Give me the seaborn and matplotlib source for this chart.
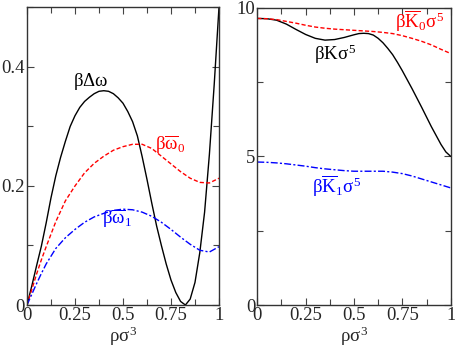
import numpy as np
import matplotlib
matplotlib.use("Agg")
import matplotlib.pyplot as plt
from matplotlib.ticker import MultipleLocator
import seaborn as sns
import pandas as pd

# left panel: free energy terms vs density
x_dw = [0, 0.025, 0.05, 0.075, 0.1, 0.125, 0.15, 0.175, 0.2, 0.225, 0.25, 0.275, 0.3, 0.325,
        0.35, 0.375, 0.4, 0.425, 0.45, 0.475, 0.5, 0.525, 0.55, 0.575, 0.6, 0.625, 0.65,
        0.675, 0.7, 0.725, 0.75, 0.775, 0.8, 0.825, 0.85, 0.875, 0.9, 0.925, 0.95, 0.975, 1.0]
dw = [0, 0.032, 0.066, 0.099, 0.138, 0.18, 0.217, 0.248, 0.275, 0.30, 0.318, 0.332, 0.342, 0.349,
      0.355, 0.359, 0.360, 0.359, 0.355, 0.348, 0.339, 0.325, 0.308, 0.284, 0.249, 0.211, 0.171,
      0.133, 0.10, 0.069, 0.042, 0.021, 0.006, 0.0, 0.010, 0.038, 0.088, 0.156, 0.253, 0.37, 0.50]

x_w = [0, 0.025, 0.05, 0.075, 0.1, 0.15, 0.2, 0.25, 0.3, 0.35, 0.4, 0.45, 0.5, 0.55,
       0.6, 0.65, 0.7, 0.75, 0.8, 0.85, 0.9, 0.95, 1.0]
w0 = [0, 0.026, 0.052, 0.076, 0.098, 0.14, 0.175, 0.20, 0.222, 0.238, 0.25, 0.26, 0.266, 0.27,
      0.27, 0.263, 0.25, 0.237, 0.224, 0.213, 0.206, 0.205, 0.213]
w1 = [0, 0.018, 0.036, 0.053, 0.069, 0.095, 0.113, 0.127, 0.139, 0.148, 0.154, 0.159, 0.161, 0.16,
      0.156, 0.149, 0.139, 0.127, 0.114, 0.102, 0.092, 0.089, 0.098]

# right panel: elastic constants vs density
x_k = [0, 0.05, 0.1, 0.15, 0.2, 0.25, 0.3, 0.35, 0.4, 0.45, 0.5, 0.525, 0.55, 0.575,
       0.6, 0.625, 0.65, 0.675, 0.7, 0.725, 0.75, 0.8, 0.85, 0.9, 0.95, 0.975, 1.0]
K = [9.64, 9.63, 9.58, 9.45, 9.27, 9.10, 8.97, 8.91, 8.93, 9.0, 9.09, 9.13, 9.14, 9.13,
     9.08, 8.97, 8.82, 8.63, 8.42, 8.16, 7.88, 7.28, 6.65, 6.0, 5.4, 5.15, 5.0]
x_k0 = [0, 0.05, 0.1, 0.15, 0.2, 0.25, 0.3, 0.35, 0.4, 0.45, 0.5, 0.55,
        0.6, 0.65, 0.7, 0.75, 0.8, 0.85, 0.9, 0.95, 1.0]
K0 = [9.64, 9.63, 9.6, 9.54, 9.48, 9.41, 9.35, 9.31, 9.28, 9.26, 9.24, 9.22,
      9.2, 9.17, 9.13, 9.06, 8.97, 8.87, 8.75, 8.6, 8.46]
K1 = [4.81, 4.80, 4.78, 4.75, 4.71, 4.67, 4.62, 4.58, 4.55, 4.52, 4.50, 4.50,
      4.50, 4.50, 4.47, 4.42, 4.34, 4.24, 4.14, 4.04, 3.94]

xticks = [0, 0.25, 0.5, 0.75, 1]
xticklabels = ["0", "0.25", "0.5", "0.75", "1"]

sns.set_theme(style="ticks")
plt.rcParams["font.family"] = ["Liberation Serif", "DejaVu Serif"]
plt.rcParams["mathtext.fontset"] = "custom"
plt.rcParams["mathtext.rm"] = "Liberation Serif"
plt.rcParams["mathtext.it"] = "Liberation Serif"
plt.rcParams["mathtext.bf"] = "Liberation Serif:bold"

RED = "#ff0000"
BLUE = "#0000ff"
dash = (0, (3, 1.6))
dashdot = (0, (5, 1.6, 1.5, 1.6))

fig = plt.figure(figsize=(4.55, 3.51), dpi=100)
ax1 = fig.add_axes([0.0593, 0.131, 0.4220, 0.848])
ax2 = fig.add_axes([0.5655, 0.131, 0.4250, 0.847])

sns.lineplot(x=x_dw, y=dw, ax=ax1, color="black", lw=1.0)
sns.lineplot(x=x_w, y=w0, ax=ax1, color=RED, lw=1.0, linestyle=dash)
sns.lineplot(x=x_w, y=w1, ax=ax1, color=BLUE, lw=1.0, linestyle=dashdot)

sns.lineplot(x=x_k, y=K, ax=ax2, color="black", lw=1.0)
sns.lineplot(x=x_k0, y=K0, ax=ax2, color=RED, lw=1.0, linestyle=dash)
sns.lineplot(x=x_k0, y=K1, ax=ax2, color=BLUE, lw=1.0, linestyle=dashdot)

ax1.set_ylim(0, 0.5)
ax1.set_yticks([0, 0.2, 0.4])
ax1.set_yticklabels(["0", "0.2", "0.4"])
ax1.yaxis.set_minor_locator(MultipleLocator(0.1))

ax2.set_ylim(0, 10)
ax2.set_yticks([0, 5, 10])
ax2.set_yticklabels(["0", "5", "10"])
ax2.yaxis.set_minor_locator(MultipleLocator(2.5))

for ax in (ax1, ax2):
    ax.set_xlim(0, 1)
    ax.set_xticks(xticks)
    ax.set_xticklabels(xticklabels)
    ax.xaxis.set_minor_locator(MultipleLocator(0.125))
    ax.tick_params(which="both", direction="in", top=True, right=True,
                   labelsize=13.5, pad=1.5, width=0.8, color="#444444")
    ax.tick_params(which="major", length=5)
    ax.tick_params(which="minor", length=4)
    for s in ax.spines.values():
        s.set_linewidth(1.0)
        s.set_color("#333333")
    ax.set_xlabel(r"$\rho\sigma^3$", fontsize=13.5, labelpad=0)
    ax.set_ylabel("")

ax1.text(0.33, 0.375, r"$\beta\Delta\omega$", fontsize=13.5, ha="center", va="center", color="black")
ax1.text(0.745, 0.27, r"$\beta\overline{\omega}_0$", fontsize=13.5, ha="center", va="center", color=RED)
ax1.text(0.47, 0.145, r"$\beta\overline{\omega}_1$", fontsize=13.5, ha="center", va="center", color=BLUE)

ax2.text(0.40, 8.45, r"$\beta K\sigma^5$", fontsize=13.5, ha="center", va="center", color="black")
ax2.text(0.84, 9.55, r"$\beta\overline{K}_0\sigma^5$", fontsize=13.5, ha="center", va="center", color=RED)
ax2.text(0.41, 4.0, r"$\beta\overline{K}_1\sigma^5$", fontsize=13.5, ha="center", va="center", color=BLUE)

fig.savefig("out.png", dpi=100)
